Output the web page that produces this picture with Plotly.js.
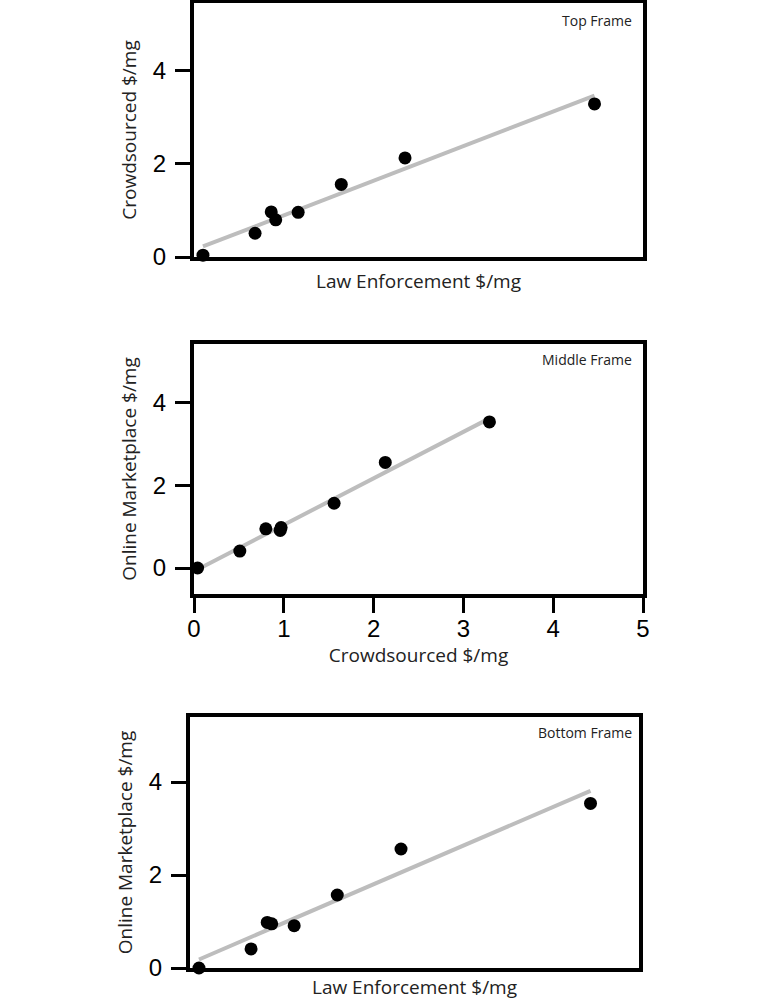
<!DOCTYPE html>
<html>
<head>
<meta charset="utf-8">
<script src="https://cdn.plot.ly/plotly-3.0.1.min.js"></script>
<style>html,body{margin:0;padding:0;background:#fff;}#chart{width:769px;height:1000px;}</style>
</head>
<body>
<div id="chart"></div>
<script>
// Price per mg by source (8 samples)
const lawEnforcement = [0.10, 0.68, 0.86, 0.91, 1.16, 1.64, 2.35, 4.46];
const crowdsourced   = [0.04, 0.51, 0.97, 0.80, 0.96, 1.56, 2.13, 3.29];
const onlineMarket   = [0.00, 0.41, 0.98, 0.95, 0.91, 1.57, 2.56, 3.54];
const frameLabels = ["Top Frame", "Middle Frame", "Bottom Frame"];
const axisTitles = {
  law: "Law Enforcement $/mg",
  crowd: "Crowdsourced $/mg",
  online: "Online Marketplace $/mg"
};
const yTicks = [0, 2, 4];
const xTicksMiddle = [0, 1, 2, 3, 4, 5];

function fitLine(x, y) {
  const n = x.length;
  const mx = x.reduce((a, b) => a + b, 0) / n;
  const my = y.reduce((a, b) => a + b, 0) / n;
  let sxy = 0, sxx = 0;
  for (let i = 0; i < n; i++) { sxy += (x[i] - mx) * (y[i] - my); sxx += (x[i] - mx) ** 2; }
  const b = sxy / sxx, a = my - b * mx;
  const x0 = Math.min(...x), x1 = Math.max(...x);
  return { x: [x0, x1], y: [a + b * x0, a + b * x1] };
}

const W = 769, H = 1000;
const px = v => v / W;
const py = v => 1 - v / H;

const lineStyle = { color: '#bdbdbd', width: 4 };
const markerStyle = { color: '#000', size: 13 };

const pairs = [
  { x: lawEnforcement, y: crowdsourced, xa: 'x', ya: 'y' },
  { x: crowdsourced, y: onlineMarket, xa: 'x2', ya: 'y2' },
  { x: lawEnforcement, y: onlineMarket, xa: 'x3', ya: 'y3' }
];
const traces = [];
pairs.forEach(p => {
  const f = fitLine(p.x, p.y);
  traces.push({ type: 'scatter', mode: 'lines', x: f.x, y: f.y, xaxis: p.xa, yaxis: p.ya, line: lineStyle, hoverinfo: 'skip', cliponaxis: false });
  traces.push({ type: 'scatter', mode: 'markers', x: p.x, y: p.y, xaxis: p.xa, yaxis: p.ya, marker: markerStyle, cliponaxis: false });
});

const tickFont = { family: 'Liberation Sans, Arial, sans-serif', size: 24, color: '#000' };
const titleFont = { family: 'Open Sans, sans-serif', size: 19, color: '#222' };
const labelFont = { family: 'Open Sans, sans-serif', size: 14, color: '#222' };

function xAxis(domain, anchor, showTicks, title, standoff) {
  return {
    domain: domain, anchor: anchor, range: [0, 5],
    showline: true, linecolor: '#000', linewidth: 4, mirror: true,
    showgrid: false, zeroline: false,
    ticks: showTicks ? 'outside' : '', ticklen: 15, tickwidth: 3, tickcolor: '#000',
    showticklabels: showTicks, tickvals: showTicks ? xTicksMiddle : [],
    tickfont: tickFont, ticklabelstandoff: showTicks ? -5 : 0,
    title: { text: title, font: titleFont, standoff: standoff },
    fixedrange: true
  };
}
function yAxis(domain, anchor, range, title) {
  return {
    domain: domain, anchor: anchor, range: range,
    showline: true, linecolor: '#000', linewidth: 4, mirror: true,
    showgrid: false, zeroline: false,
    ticks: 'outside', ticklen: 15, tickwidth: 3, tickcolor: '#000',
    tickvals: yTicks, tickfont: tickFont, ticklabelstandoff: 4,
    title: { text: title, font: titleFont, standoff: 12 },
    fixedrange: true
  };
}

const layout = {
  width: W, height: H,
  margin: { l: 0, r: 0, t: 0, b: 0 },
  paper_bgcolor: '#fff', plot_bgcolor: '#fff',
  showlegend: false,
  xaxis:  xAxis([px(194), px(643)], 'y',  false, axisTitles.law, 16),
  yaxis:  yAxis([py(257), py(3)], 'x',  [0, 5.46], axisTitles.crowd),
  xaxis2: xAxis([px(194), px(643)], 'y2', true, axisTitles.crowd, 0),
  yaxis2: yAxis([py(594), py(344)], 'x2', [-0.630, 5.430], axisTitles.online),
  xaxis3: xAxis([px(190), px(639)], 'y3', false, axisTitles.law, 11),
  yaxis3: yAxis([py(968), py(717)], 'x3', [0, 5.40], axisTitles.online),
  annotations: [
    { text: frameLabels[0], xref: 'paper', yref: 'paper', x: px(634), y: py(20), xanchor: 'right', yanchor: 'middle', showarrow: false, font: labelFont },
    { text: frameLabels[1], xref: 'paper', yref: 'paper', x: px(634), y: py(359), xanchor: 'right', yanchor: 'middle', showarrow: false, font: labelFont },
    { text: frameLabels[2], xref: 'paper', yref: 'paper', x: px(634), y: py(732), xanchor: 'right', yanchor: 'middle', showarrow: false, font: labelFont }
  ]
};

Plotly.newPlot('chart', traces, layout, { displayModeBar: false, staticPlot: true });
</script>
</body>
</html>
